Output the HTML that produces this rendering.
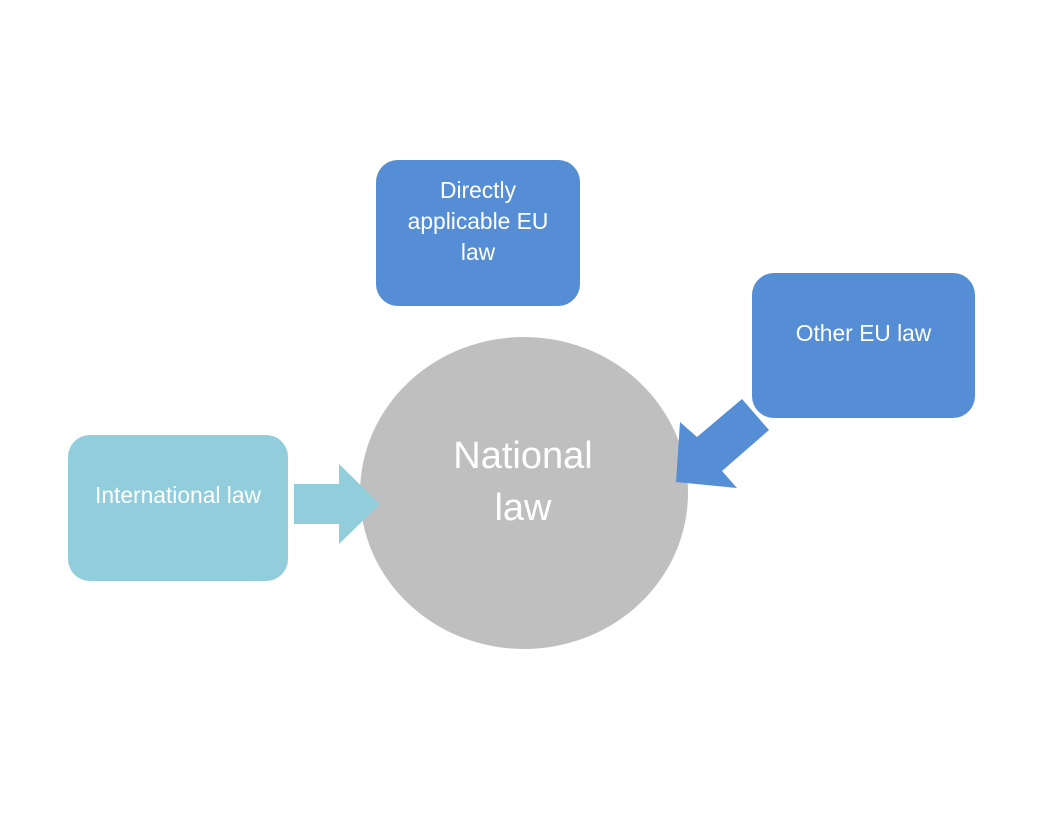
<!DOCTYPE html>
<html><head><style>
body{margin:0;width:1056px;height:816px;background:#fff;position:relative;font-family:"Liberation Sans",sans-serif;overflow:hidden}
.b{position:absolute;border-radius:22px;color:#fff;display:flex;justify-content:center;text-align:center;font-size:22.8px;line-height:31px;box-sizing:border-box;align-items:flex-start}
</style></head><body>
<svg width="1056" height="816" style="position:absolute;left:0;top:0">
<ellipse cx="524" cy="493" rx="164" ry="156" fill="#BFBFBF"/>
<polygon points="294,484 339,484 339,464 380,504 339,544 339,524 294,524" fill="#92CDDC"/>
<polygon points="676,482 680,422 697,437 742,399 769,430 722,471 737,488" fill="#558ED5"/>
<text x="523" y="468" fill="#fff" font-size="38" text-anchor="middle" font-family="Liberation Sans">National</text>
<text x="523" y="520" fill="#fff" font-size="38" text-anchor="middle" font-family="Liberation Sans">law</text>
</svg>
<div class="b" style="left:376px;top:160px;width:204px;height:146px;background:#558ED5;padding-top:15px">Directly<br>applicable EU<br>law</div>
<div class="b" style="left:752px;top:273px;width:223px;height:145px;background:#558ED5;padding-top:45px">Other EU law</div>
<div class="b" style="left:68px;top:435px;width:220px;height:146px;background:#92CDDC;padding-top:45px">International law</div>
</body></html>
